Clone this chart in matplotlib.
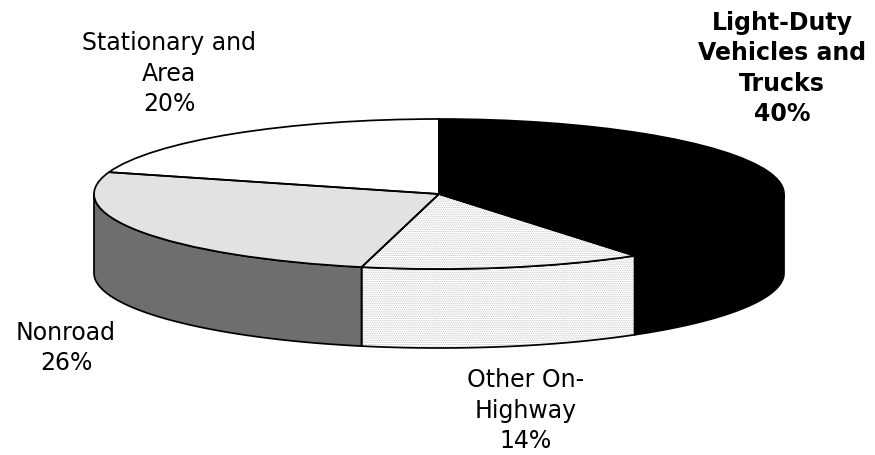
import numpy as np
import matplotlib
matplotlib.use("Agg")
import matplotlib.pyplot as plt

categories = ["Light-Duty\nVehicles and\nTrucks", "Other On-\nHighway", "Nonroad", "Stationary and\nArea"]
# printed percentages
shares = [40, 14, 26, 20]
# slice sizes as drawn in the picture (its 3D projection shifts them a little from the printed values)
drawn_shares = [40.4, 13.2, 26.1, 20.3]
top_colors = ["#000000", "#ffffff", "#e2e2e2", "#ffffff"]
wall_colors = ["#000000", "#ffffff", "#6e6e6e", "#ffffff"]

W, H = 875, 455
CX, CY, RX, RY, DEPTH = 439, 194, 345, 75, 79
LW = 1.25
DOT = "#b4b4b4"

plt.rcParams["font.family"] = ["DejaVu Sans"]
plt.rcParams["hatch.linewidth"] = 0.4
fig = plt.figure(figsize=(W / 100, H / 100), dpi=100, facecolor="white")
ax = fig.add_axes([(CX - RX) / W, 1 - (CY + RY) / H, 2 * RX / W, 2 * RY / H])
ax.set_xlim(-1, 1)
ax.set_ylim(-1, 1)

depth = DEPTH / RY
edges = 90 - 3.6 * np.concatenate([[0], np.cumsum(drawn_shares)])

# side walls (front half of the ellipse only)
for i in range(len(drawn_shares)):
    hi, lo = edges[i], edges[i + 1]
    a0, a1 = max(lo, -180.0), min(hi, 0.0)
    if a0 >= a1:
        continue
    t = np.radians(np.linspace(a1, a0, 120))
    x, y = np.cos(t), np.sin(t)
    xs = np.concatenate([x, x[::-1]])
    ys = np.concatenate([y, y[::-1] - depth])
    is_textured = i == 1
    ax.fill(xs, ys, facecolor=wall_colors[i], edgecolor=DOT if is_textured else "none",
            hatch="........." if is_textured else None, lw=0, clip_on=False, zorder=1)
    ax.fill(xs, ys, fill=False, edgecolor="black", lw=LW, clip_on=False, zorder=2)

# top face
wedges, _ = ax.pie(drawn_shares, colors=top_colors, startangle=90, counterclock=False,
                   radius=1, center=(0, 0), wedgeprops={"lw": 0})
for w in wedges:
    w.set_clip_on(False)
    w.set_zorder(3)
wedges[1].set_edgecolor(DOT)
wedges[1].set_hatch(".........")
outline, _ = ax.pie(drawn_shares, colors=top_colors, startangle=90, counterclock=False,
                    radius=1, center=(0, 0),
                    wedgeprops={"fill": False, "edgecolor": "black", "lw": LW})
for w in outline:
    w.set_clip_on(False)
    w.set_zorder(4)
ax.set_aspect("auto")
ax.set_xlim(-1, 1)
ax.set_ylim(-1, 1)
ax.axis("off")


def label(px, py, name, share, bold=False):
    fig.text(px / W, 1 - py / H, f"{name}\n{share}%", ha="center", va="baseline",
             multialignment="center", fontsize=17, fontweight="bold" if bold else "normal",
             linespacing=1.33, color="black")


label(782, 121, categories[0], shares[0], True)
label(526, 448, categories[1], shares[1])
label(66, 370, categories[2], shares[2])
label(169, 111, categories[3], shares[3])

fig.savefig("out.png", dpi=100)
